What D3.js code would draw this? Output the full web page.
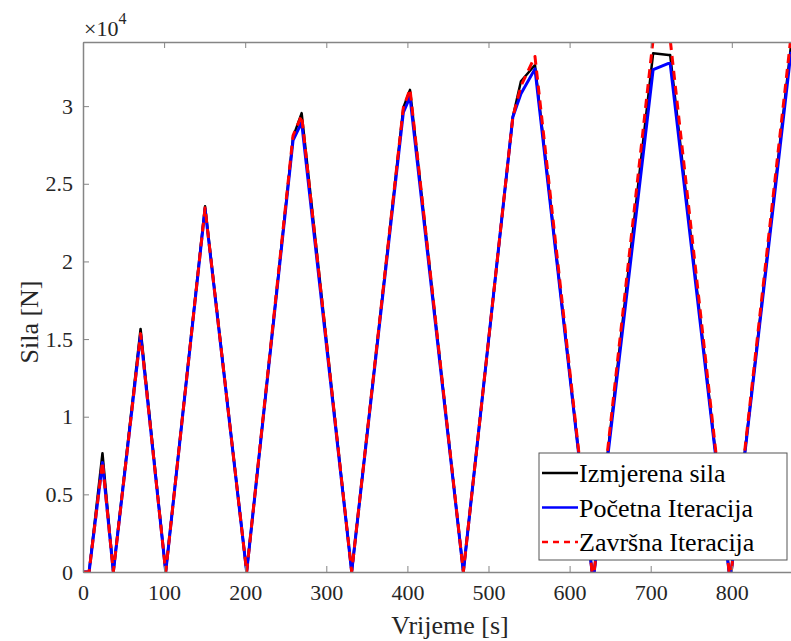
<!DOCTYPE html>
<html>
<head>
<meta charset="utf-8">
<script src="https://cdn.jsdelivr.net/npm/d3@7"></script>
</head>
<body style="margin:0">
<script>
  var width = 791,
      height = 641;

  var margin = {top: 42, right: 0, bottom: 69, left: 83};

  // vrijeme [s]
  var vrijeme = [0, 7.5, 24, 37.4, 71, 102, 150.5, 201.8, 259, 269.6, 331.3, 395, 403.2, 469,
                 530, 540, 557.3, 629, 703, 722, 724, 798, 873];
  // sila [N]
  var izmjerena = [0, 0, 7650, 0, 15650, 0, 23550, 0, 28000, 29550, 0, 29900, 31050, 0,
                   29300, 31600, 32650, -600, 33400, 33300, 33300, -600, 33900];
  var pocetna = [0, 0, 7050, 0, 15300, 0, 23400, 0, 27800, 28950, 0, 29600, 30600, 0,
                 29300, 30800, 32400, -600, 32350, 32750, 32750, -600, 33500];
  var zavrsna = [0, 0, 7100, 0, 15350, 0, 23450, 0, 28100, 29400, 0, 29900, 31100, 0,
                 29300, 31300, 33200, -600, 34300, 34500, 34300, -600, 34500];

  var xTicks = [0, 100, 200, 300, 400, 500, 600, 700, 800];
  var yTicks = [0, 5000, 10000, 15000, 20000, 25000, 30000];

  var legendNames = ["Izmjerena sila", "Početna Iteracija", "Završna Iteracija"];

  var series = [
    {name: legendNames[0], values: izmjerena, color: "#000000", width: 2.5, dash: null},
    {name: legendNames[1], values: pocetna, color: "#0000ff", width: 3, dash: null},
    {name: legendNames[2], values: zavrsna, color: "#ff0000", width: 3, dash: "9,6"}
  ];

  var font = "Times New Roman";

  var svg = d3.select("body").append("svg")
      .attr("width", width)
      .attr("height", height)
      .attr("font-family", font);

  var innerW = width - margin.left - margin.right,
      innerH = height - margin.top - margin.bottom;

  var x = d3.scaleLinear().domain([0, 873]).range([margin.left, width - margin.right]);
  var y = d3.scaleLinear().domain([0, 34130]).range([height - margin.bottom, margin.top]);

  svg.append("clipPath").attr("id", "clip")
    .append("rect")
      .attr("x", margin.left).attr("y", margin.top)
      .attr("width", innerW).attr("height", innerH);

  var line = d3.line()
      .x(function(d) { return x(d[0]); })
      .y(function(d) { return y(d[1]); });

  var plot = svg.append("g").attr("clip-path", "url(#clip)");

  series.forEach(function(s) {
    plot.append("path")
      .datum(vrijeme.map(function(t, i) { return [t, s.values[i]]; }))
      .attr("fill", "none")
      .attr("stroke", s.color)
      .attr("stroke-width", s.width)
      .attr("stroke-dasharray", s.dash)
      .attr("stroke-linejoin", "round")
      .attr("d", line);
  });

  // axes
  var axisColor = "#858585";

  var xAxis = svg.append("g")
      .attr("transform", "translate(0," + (height - margin.bottom) + ")")
      .call(d3.axisBottom(x).tickValues(xTicks).tickSizeInner(-6).tickSizeOuter(0).tickPadding(12));

  var xAxisTop = svg.append("g")
      .attr("transform", "translate(0," + margin.top + ")")
      .call(d3.axisTop(x).tickValues(xTicks).tickSizeInner(-6).tickSizeOuter(0).tickFormat(""));

  var yAxis = svg.append("g")
      .attr("transform", "translate(" + margin.left + ",0)")
      .call(d3.axisLeft(y).tickValues(yTicks).tickSizeInner(-6).tickSizeOuter(0).tickPadding(10)
        .tickFormat(function(d) { return d3.format("~g")(d / 10000); }));

  [xAxis, xAxisTop, yAxis].forEach(function(a) {
    a.attr("font-family", font).attr("font-size", 22);
    a.select(".domain").attr("stroke", axisColor).attr("stroke-width", 1.5);
    a.selectAll(".tick line").attr("stroke", axisColor).attr("stroke-width", 1);
    a.selectAll(".tick text").attr("fill", "#262626");
  });

  // exponent label
  var expo = svg.append("text")
      .attr("x", margin.left + 1)
      .attr("y", 36)
      .attr("fill", "#262626")
      .attr("font-size", 22);
  expo.append("tspan").text("×10");
  expo.append("tspan").attr("dy", -12).attr("font-size", 16).text("4");

  svg.append("text")
      .attr("x", 450)
      .attr("y", 634)
      .attr("text-anchor", "middle")
      .attr("fill", "#262626")
      .attr("font-size", 26)
      .text("Vrijeme [s]");

  svg.append("text")
      .attr("transform", "translate(38,322) rotate(-90)")
      .attr("text-anchor", "middle")
      .attr("fill", "#262626")
      .attr("font-size", 26)
      .text("Sila [N]");

  // legend
  var legend = svg.append("g").attr("transform", "translate(539,453)");

  legend.append("rect")
      .attr("width", 248)
      .attr("height", 107)
      .attr("fill", "#fff")
      .attr("stroke", "#555")
      .attr("stroke-width", 1);

  var item = legend.selectAll(".item")
    .data(series)
    .enter().append("g")
      .attr("transform", function(d, i) { return "translate(0," + (20 + i * 34.5) + ")"; });

  item.append("line")
      .attr("x1", 3).attr("x2", 39)
      .attr("stroke", function(d) { return d.color; })
      .attr("stroke-width", 2.5)
      .attr("stroke-dasharray", function(d) { return d.dash ? "6,5" : null; });

  item.append("text")
      .attr("x", 40)
      .attr("y", 9)
      .attr("fill", "#000")
      .attr("font-size", 26)
      .text(function(d) { return d.name; });

  svg.selectAll("text").attr("font-family", font);
</script>
</body>
</html>
